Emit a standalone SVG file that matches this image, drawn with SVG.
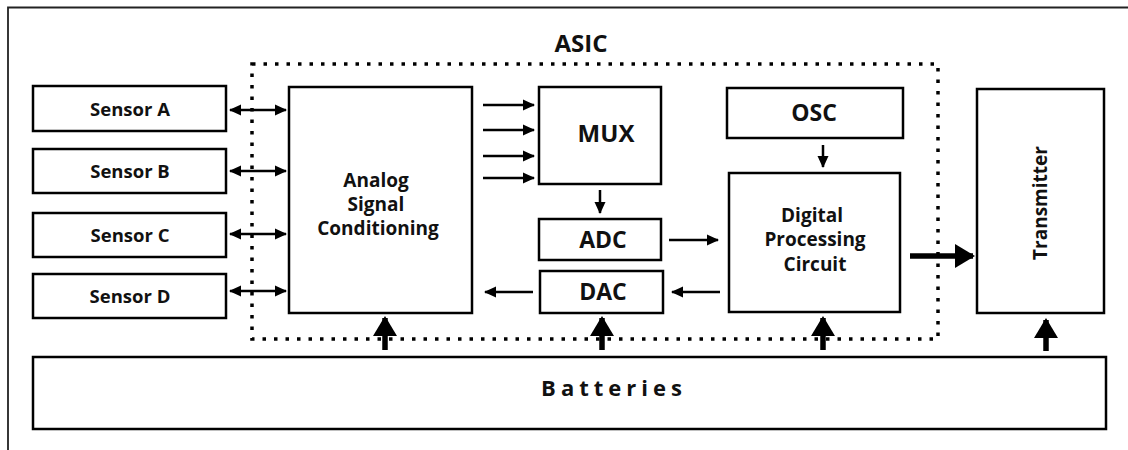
<svg xmlns="http://www.w3.org/2000/svg" width="1128" height="450" viewBox="0 0 1128 450">
<defs>
<style>
.box{fill:#fff;stroke:#000;stroke-width:2.5}
.t{font-family:"Open Sans","Liberation Sans",sans-serif;font-weight:700;fill:#111;text-anchor:middle}
.ln{stroke:#000;stroke-width:2.5;fill:none}
.bold{stroke:#000;stroke-width:5.5;fill:none}
</style>
<marker id="ah" markerUnits="userSpaceOnUse" markerWidth="12" markerHeight="12" refX="11" refY="6" orient="auto-start-reverse" viewBox="0 0 12 12">
<path d="M0,0.5 L12,6 L0,11.5 z" fill="#000"/>
</marker>
<marker id="bh" markerUnits="userSpaceOnUse" markerWidth="20" markerHeight="24" refX="18" refY="12" orient="auto" viewBox="0 0 20 24">
<path d="M0,0 L20,12 L0,24 z" fill="#000"/>
</marker>
</defs>
<rect width="1128" height="450" fill="#fff"/>
<path d="M8,450 V7.5 H1128" fill="none" stroke="#222" stroke-width="1.8"/>

<g id="asic">
<rect x="252" y="64" width="686" height="275" fill="none" stroke="#000" stroke-width="3.5" stroke-dasharray="3.5 8"/>
<text class="t" x="581" y="52" font-size="24">ASIC</text>
</g>

<g id="sensorA"><rect class="box" x="33" y="86" width="193" height="45"/><text class="t" x="130" y="116" font-size="18.5">Sensor A</text></g>
<g id="sensorB"><rect class="box" x="33" y="149" width="193" height="44"/><text class="t" x="130" y="178" font-size="18.5">Sensor B</text></g>
<g id="sensorC"><rect class="box" x="33" y="213" width="193" height="44"/><text class="t" x="130" y="242" font-size="18.5">Sensor C</text></g>
<g id="sensorD"><rect class="box" x="33" y="274" width="193" height="44"/><text class="t" x="130" y="303" font-size="18.5">Sensor D</text></g>

<g id="asc"><rect class="box" x="289" y="87" width="183" height="226"/>
<text class="t" font-size="19" x="376"><tspan x="376" y="187">Analog</tspan><tspan x="376" y="211">Signal</tspan><tspan x="378" y="235">Conditioning</tspan></text></g>

<g id="mux"><rect class="box" x="539" y="87" width="122" height="97"/><text class="t" x="606" y="142" font-size="24">MUX</text></g>
<g id="adc"><rect class="box" x="539" y="219" width="122" height="41"/><text class="t" x="603" y="248" font-size="23">ADC</text></g>
<g id="dac"><rect class="box" x="540" y="271" width="123" height="42"/><text class="t" x="603" y="300" font-size="23">DAC</text></g>
<g id="osc"><rect class="box" x="727" y="88" width="176" height="50"/><text class="t" x="814" y="121" font-size="23">OSC</text></g>
<g id="dpc"><rect class="box" x="729" y="173" width="171" height="139"/>
<text class="t" font-size="19"><tspan x="812" y="222">Digital</tspan><tspan x="815" y="246">Processing</tspan><tspan x="815" y="271">Circuit</tspan></text></g>
<g id="transmitter"><rect class="box" x="977" y="89" width="127" height="224"/>
<text class="t" font-size="19" transform="translate(1047,203) rotate(-90)" x="0" y="0">Transmitter</text></g>
<g id="batteries"><rect class="box" x="33" y="357" width="1073" height="72" stroke-width="3"/>
<text class="t" x="614" y="396" font-size="22" letter-spacing="5">Batteries</text></g>

<g id="connectors">
<line class="ln" x1="230" y1="110" x2="286" y2="110" marker-start="url(#ah)" marker-end="url(#ah)"/>
<line class="ln" x1="230" y1="171" x2="286" y2="171" marker-start="url(#ah)" marker-end="url(#ah)"/>
<line class="ln" x1="230" y1="234" x2="286" y2="234" marker-start="url(#ah)" marker-end="url(#ah)"/>
<line class="ln" x1="230" y1="291" x2="286" y2="291" marker-start="url(#ah)" marker-end="url(#ah)"/>
<line class="ln" stroke-width="3" x1="483" y1="105" x2="534" y2="105" marker-end="url(#ah)"/>
<line class="ln" stroke-width="3" x1="483" y1="130" x2="534" y2="130" marker-end="url(#ah)"/>
<line class="ln" stroke-width="3" x1="483" y1="156" x2="534" y2="156" marker-end="url(#ah)"/>
<line class="ln" stroke-width="3" x1="483" y1="178" x2="534" y2="178" marker-end="url(#ah)"/>
<line class="ln" x1="600" y1="190" x2="600" y2="213" marker-end="url(#ah)"/>
<line class="ln" x1="669" y1="240" x2="718" y2="240" marker-end="url(#ah)"/>
<line class="ln" x1="720" y1="292" x2="672" y2="292" marker-end="url(#ah)"/>
<line class="ln" x1="533" y1="292" x2="485" y2="292" marker-end="url(#ah)"/>
<line class="ln" x1="823" y1="145" x2="823" y2="167" marker-end="url(#ah)"/>
<line class="bold" x1="910" y1="256" x2="973" y2="256" marker-end="url(#bh)"/>
<line class="bold" x1="385" y1="350" x2="385" y2="318" marker-end="url(#bh)"/>
<line class="bold" x1="602" y1="350" x2="602" y2="318" marker-end="url(#bh)"/>
<line class="bold" x1="823" y1="350" x2="823" y2="318" marker-end="url(#bh)"/>
<line class="bold" x1="1046" y1="351" x2="1046" y2="320" marker-end="url(#bh)"/>
</g>
</svg>
